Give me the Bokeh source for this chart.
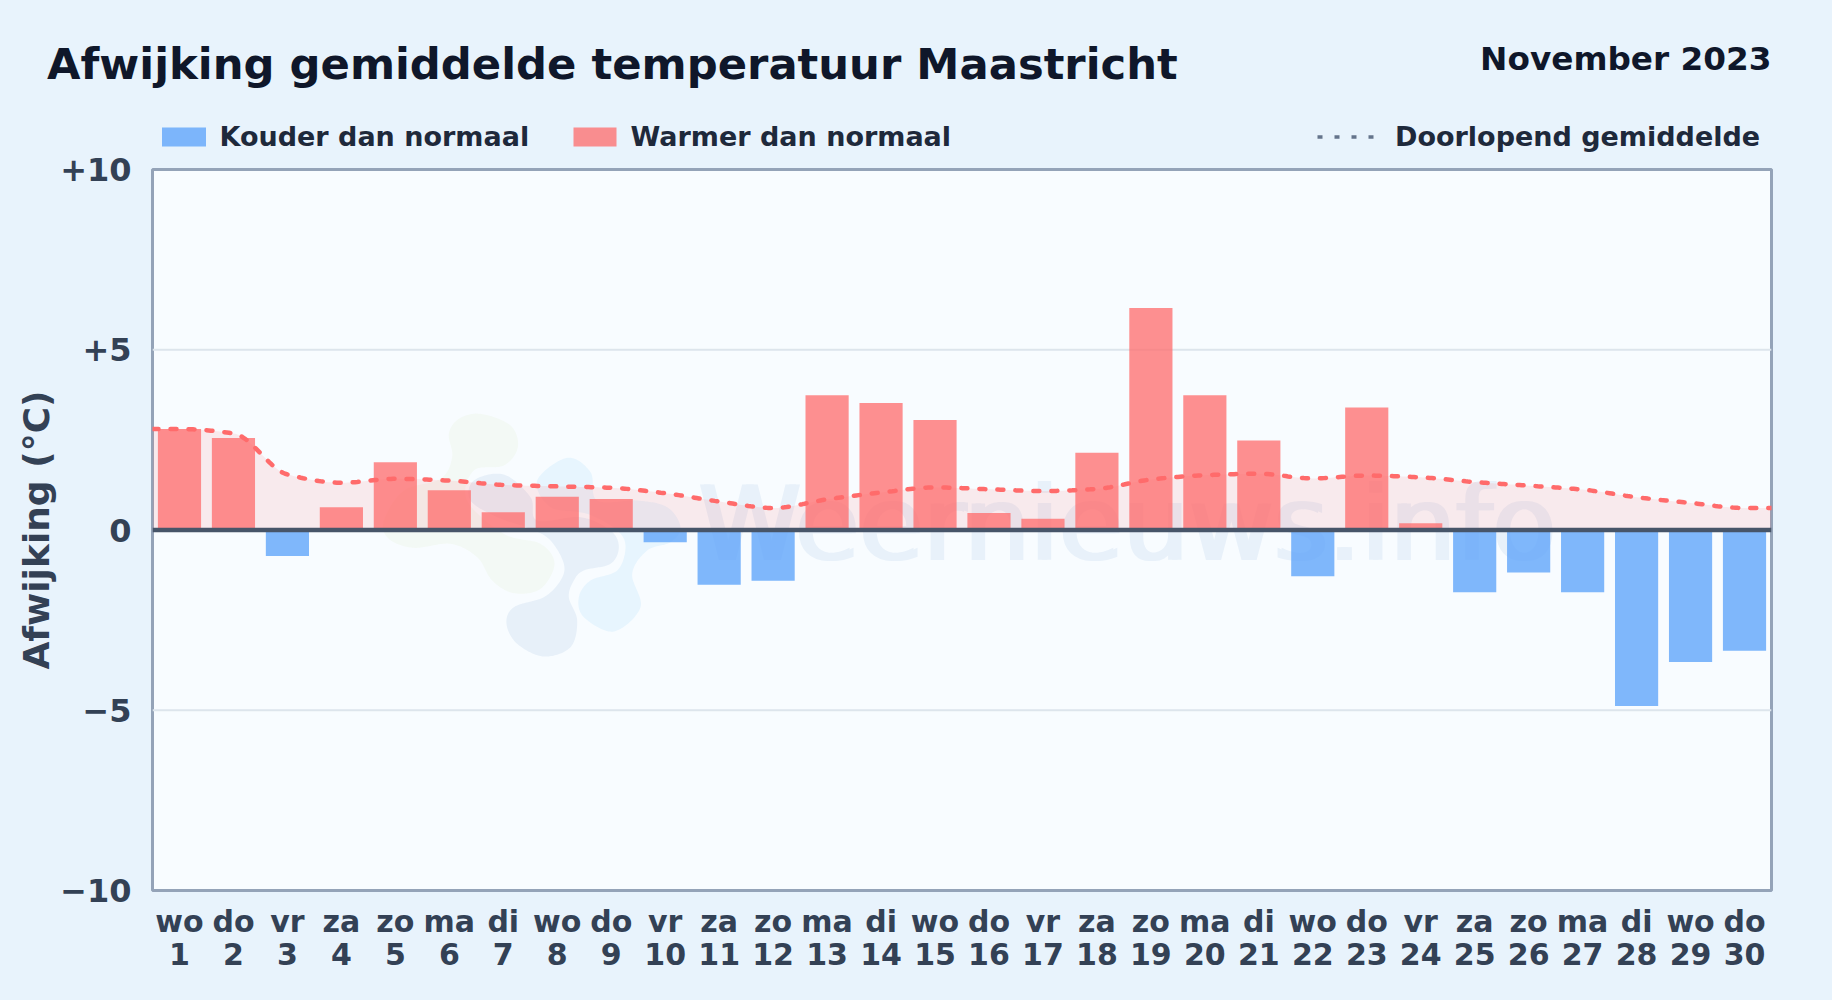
import numpy as np
from bokeh.plotting import figure
from bokeh.layouts import column
from bokeh.embed import file_html
from bokeh.resources import INLINE
from bokeh.core.properties import value
from bokeh.models import Range1d, LinearAxis, FixedTicker, ColumnDataSource

# ---------- data ----------
weekdays = ["wo", "do", "vr", "za", "zo", "ma", "di", "wo", "do", "vr", "za", "zo", "ma", "di", "wo",
            "do", "vr", "za", "zo", "ma", "di", "wo", "do", "vr", "za", "zo", "ma", "di", "wo", "do"]
days = list(range(1, 31))
deviation = [2.80, 2.55, -0.72, 0.63, 1.88, 1.10, 0.49, 0.92, 0.86, -0.34,
             -1.52, -1.41, 3.74, 3.52, 3.05, 0.47, 0.31, 2.14, 6.16, 3.74,
             2.48, -1.28, 3.40, 0.19, -1.73, -1.18, -1.73, -4.88, -3.66, -3.35]
running_mean = [2.80, 2.68, 1.54, 1.31, 1.42, 1.37, 1.25, 1.21, 1.17, 1.02,
                0.79, 0.61, 0.85, 1.04, 1.18, 1.13, 1.08, 1.14, 1.40, 1.52,
                1.56, 1.43, 1.51, 1.46, 1.33, 1.23, 1.12, 0.91, 0.75, 0.61]
y_ticks = [-10, -5, 0, 5, 10]
y_labels = {-10: "\u221210", -5: "\u22125", 0: "0", 5: "+5", 10: "+10"}

# ---------- page geometry ----------
W, H = 1832, 1000
HEAD = 154
OVERLAP = 12
FL, FR, FT, FB = 152, 1771, 169, 890
BG = "#e8f3fc"
FONT = "DejaVu Sans"
BASELINE_SHIFT = 0.37  # em: where the svg backend puts this baseline, measured on the picture

# ---------- header strip: titles and legend ----------
head = figure(width=W, height=HEAD, output_backend="svg", toolbar_location=None,
              x_range=Range1d(0, W), y_range=Range1d(HEAD, 0),
              min_border=0, x_axis_location=None, y_axis_location=None)
head.frame_align = False
head.background_fill_color = BG
head.border_fill_color = BG
head.outline_line_color = None
head.xgrid.visible = False
head.ygrid.visible = False


def head_text(txt, x, y, size, color, align="left"):
    head.text(x=[x], y=[y - BASELINE_SHIFT * size], text=[txt], text_font=value(FONT),
              text_font_style="bold", text_font_size=f"{size}px", text_color=color,
              text_align=align, text_baseline="alphabetic")


head_text("Afwijking gemiddelde temperatuur Maastricht", 46.5, 80, 43.3, "#0f172a")
head_text("November 2023", 1771, 71, 32.7, "#0f172a", "right")
head.quad(left=[161.5], right=[205.5], top=[127], bottom=[146], fill_color="#60a5fa", fill_alpha=0.8,
          line_color=None)
head_text("Kouder dan normaal", 219, 146, 27, "#1e293b")
head.quad(left=[573], right=[616], top=[127], bottom=[146], fill_color="#ff6b6b", fill_alpha=0.75,
          line_color=None)
head_text("Warmer dan normaal", 630, 146, 27, "#1e293b")
head.line([1317, 1375], [136.5, 136.5], line_color="#64748b", line_width=3.5, line_dash="5 12")
head_text("Doorlopend gemiddelde", 1394.5, 146, 27, "#1e293b")

# ---------- main chart (its transparent top border overlaps the header a little) ----------
p = figure(width=W, height=H - HEAD + OVERLAP, output_backend="svg", toolbar_location=None,
           x_range=Range1d(0.5, 30.5), y_range=Range1d(-10, 10),
           min_border_left=FL, min_border_right=W - FR,
           min_border_top=FT - HEAD + OVERLAP, min_border_bottom=H - FB,
           x_axis_location=None, y_axis_location=None)
p.frame_align = False
p.styles = {"margin-top": f"-{OVERLAP}px"}
p.background_fill_color = "#f8fcff"
p.border_fill_alpha = 0
p.outline_line_color = "#94a3b8"
p.outline_line_width = 3


def px_x(x):
    return 0.5 + (np.asarray(x, float) - FL) / (FR - FL) * 30


def px_y(y):
    return 10 - (np.asarray(y, float) - FT) / (FB - FT) * 20


def blob(points, n=24):
    """closed Catmull-Rom outline through watermark-logo control points (crop px, 3x from 370,400)"""
    P = np.array(points, float) / 3 + np.array([370, 400])
    out = []
    for i in range(len(P)):
        a, b, c, d = P[i - 1], P[i], P[(i + 1) % len(P)], P[(i + 2) % len(P)]
        for t in np.linspace(0, 1, n, endpoint=False):
            out.append(0.5 * ((2 * b) + (c - a) * t + (2 * a - 5 * b + 4 * c - d) * t ** 2
                              + (3 * b - a - 3 * c + d) * t ** 3))
    out = np.array(out)
    return px_x(out[:, 0]), px_y(out[:, 1])


# ---------- axes ----------
yaxis = LinearAxis(ticker=FixedTicker(ticks=y_ticks), major_label_overrides=y_labels,
                   axis_label="Afwijking (\u00b0C)")
xaxis = LinearAxis(ticker=FixedTicker(ticks=days),
                   major_label_overrides={d: f"{w}\n{d}" for d, w in zip(days, weekdays)})
for ax in (xaxis, yaxis):
    ax.axis_line_color = None
    ax.major_tick_line_color = None
    ax.minor_tick_line_color = None
    ax.major_label_text_font = FONT
    ax.major_label_text_font_style = "bold"
    ax.major_label_text_color = "#334155"
yaxis.major_label_text_font_size = "32px"
xaxis.major_label_text_font_size = "30px"
yaxis.major_label_standoff = 15
xaxis.major_label_standoff = 7
xaxis.major_label_text_line_height = 0.95
yaxis.axis_label_text_font = FONT
yaxis.axis_label_text_font_style = "bold"
yaxis.axis_label_text_font_size = "36px"
yaxis.axis_label_text_color = "#334155"
yaxis.axis_label_standoff = 0
p.add_layout(yaxis, "left")
p.add_layout(xaxis, "below")

# ---------- watermark ----------
green = [(330, 40), (420, 75), (442, 140), (400, 195), (310, 210), (290, 300), (400, 400), (510, 430),
         (552, 490), (510, 565), (430, 578), (365, 540), (320, 470), (240, 430), (130, 442), (55, 415),
         (40, 360), (100, 270), (210, 235), (245, 170), (235, 100), (265, 55)]
dark = [(400, 222), (480, 290), (500, 360), (630, 350), (720, 390), (745, 440), (720, 490), (640, 510),
        (610, 540), (595, 590), (620, 660), (600, 740), (520, 768), (440, 730), (408, 670), (430, 620),
        (520, 590), (570, 540), (580, 490), (540, 420), (480, 385), (380, 350), (300, 300), (310, 240)]
light = [(590, 172), (660, 215), (680, 300), (800, 300), (890, 320), (930, 380), (900, 425), (830, 450),
         (785, 520), (810, 620), (730, 693), (640, 650), (625, 590), (660, 540), (740, 510), (765, 440),
         (740, 390), (650, 340), (540, 320), (500, 240)]
for pts, col in ((green, "#f3f9f5"), (dark, "#e7f0f9"), (light, "#e7f5fe")):
    bx, by = blob(pts)
    p.patch(bx, by, fill_color=col, line_color=None)

# two slightly offset solid copies give the watermark its heavier strokes
for dx in (-2, 2):
    p.text(x=[px_x(698 + dx)], y=[px_y(523)], text=["Weernieuws.info"], text_font=value(FONT),
           text_font_size="104px", text_color="#e8f1fa",
           text_baseline="alphabetic", text_align="left")

# ---------- grid ----------
p.xgrid.visible = False
p.ygrid.visible = False
for yv in (5, -5):
    p.line([0.5, 30.5], [yv, yv], line_color="#dde5ec", line_width=2)

# ---------- running mean: monotone cubic through the daily values ----------
xk = np.array([0.5] + days + [30.5], float)
yk = np.array([running_mean[0]] + running_mean + [running_mean[-1]], float)


def monotone(xk, yk, x):
    h = np.diff(xk)
    d = np.diff(yk) / h
    m = np.zeros_like(yk)
    m[0], m[-1] = d[0], d[-1]
    for i in range(1, len(yk) - 1):
        if d[i - 1] * d[i] > 0:
            w1, w2 = 2 * h[i] + h[i - 1], h[i] + 2 * h[i - 1]
            m[i] = (w1 + w2) / (w1 / d[i - 1] + w2 / d[i])
    idx = np.clip(np.searchsorted(xk, x, side="right") - 1, 0, len(h) - 1)
    t = (x - xk[idx]) / h[idx]
    return ((2 * t ** 3 - 3 * t ** 2 + 1) * yk[idx] + (t ** 3 - 2 * t ** 2 + t) * h[idx] * m[idx]
            + (-2 * t ** 3 + 3 * t ** 2) * yk[idx + 1] + (t ** 3 - t ** 2) * h[idx] * m[idx + 1])


xs = np.linspace(0.5, 30.5, 721)
ys = monotone(xk, yk, xs)

p.varea(x=xs, y1=np.zeros_like(xs), y2=ys, fill_color="#ff6b6b", fill_alpha=0.12)

# ---------- bars ----------
warm = ColumnDataSource(dict(x=[d for d, v in zip(days, deviation) if v > 0],
                             top=[v for v in deviation if v > 0]))
cold = ColumnDataSource(dict(x=[d for d, v in zip(days, deviation) if v < 0],
                             top=[v for v in deviation if v < 0]))
p.vbar(x="x", top="top", bottom=0, width=0.8, source=cold,
       fill_color="#60a5fa", fill_alpha=0.8, line_color=None)
p.vbar(x="x", top="top", bottom=0, width=0.8, source=warm,
       fill_color="#ff6b6b", fill_alpha=0.75, line_color=None)

p.line(xs, ys, line_color="#ff6b6b", line_width=4.5, line_dash="6 12", line_cap="round")
p.line([0.5, 30.5], [0, 0], line_color="#475569", line_width=4.5)

page = column(head, p, spacing=0)
page.styles = {"position": "fixed", "left": "0", "top": "0", "background-color": BG}

open("out.html", "w").write(file_html(page, INLINE))
